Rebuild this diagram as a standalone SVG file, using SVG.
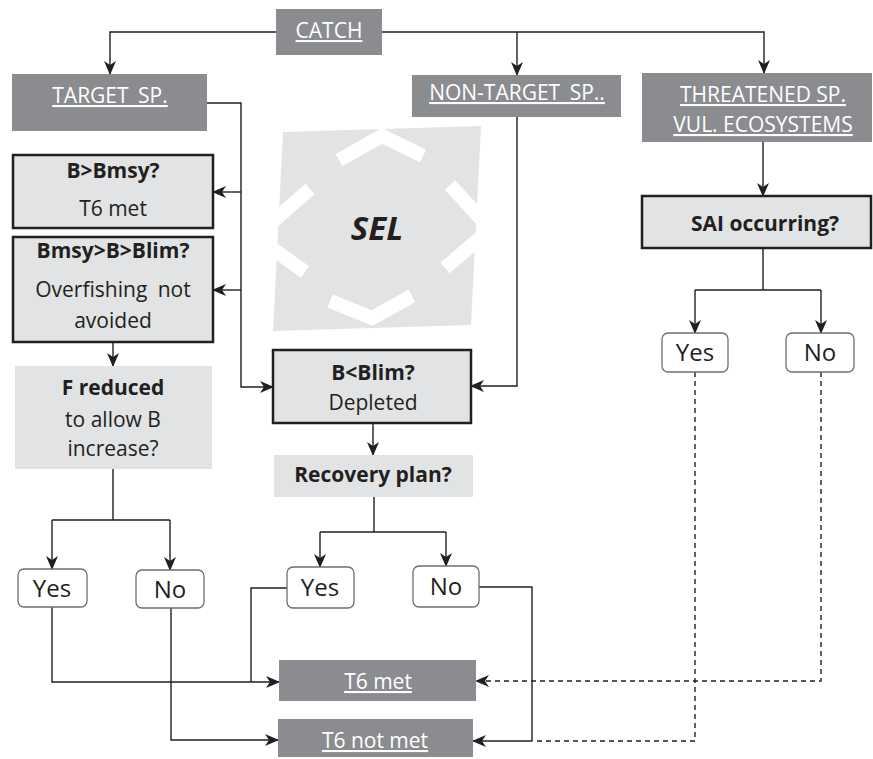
<svg xmlns="http://www.w3.org/2000/svg" width="873" height="759" viewBox="0 0 873 759">
<style>
.hdr{fill:#8b8c8f}
.box{fill:#e2e3e4;stroke:#231f20;stroke-width:2.5}
.lt{fill:#e2e3e4}
.yn{fill:#fff;stroke:#6d6e71;stroke-width:1.3}
text{font-family:"Open Sans","Noto Sans","Liberation Sans",sans-serif;text-anchor:middle;fill:#231f20;font-size:21px}
.ht{fill:#fff;text-decoration:underline}
.b{font-weight:bold}
.y{font-size:24px}
.c{fill:none;stroke:#231f20;stroke-width:1.4}
.d{fill:none;stroke:#231f20;stroke-width:1.4;stroke-dasharray:5 4}
.a{marker-end:url(#ah)}
</style>
<defs>
<marker id="ah" viewBox="0 0 14 12" refX="13" refY="6" markerWidth="14" markerHeight="12" orient="auto" markerUnits="userSpaceOnUse"><path d="M0,0 L14,6 L0,12 L4,6 Z" fill="#231f20"/></marker>
</defs>

<g id="sel">
<polygon points="283,132 481,126 471,325 273,331" fill="#e2e3e4"/>
<g fill="none" stroke="#fff" stroke-width="14" stroke-linejoin="miter">
<polyline points="339,160 382,136 423,156"/>
<polyline points="330,301 372,318 412,296"/>
<polyline points="310,189 270,224"/>
<polyline points="305,272 266,244"/>
<polyline points="450,185 482,220"/>
<polyline points="445,268 480,238"/>
</g>
<text x="377" y="240" class="b" style="font-size:33px;font-style:italic">SEL</text>
</g>

<g id="connectors">
<path class="c a" d="M276,32 H110 V74"/>
<path class="c a" d="M382,32 H764 V73"/>
<path class="c a" d="M517,32 V75"/>
<path class="c a" d="M207,103 H241 V387 H273"/>
<path class="c a" d="M241,192 H213"/>
<path class="c a" d="M241,290 H213"/>
<path class="c a" d="M113,342 V366"/>
<path class="c" d="M113,469 V520 M52,520 H170"/>
<path class="c a" d="M52,520 V569"/>
<path class="c a" d="M170,520 V570"/>
<path class="c a" d="M52,607 V682 H279"/>
<path class="c a" d="M171,608 V740 H278"/>
<path class="c a" d="M517,117 V386 H471"/>
<path class="c a" d="M373,423 V455"/>
<path class="c" d="M374,497 V532 M320,532 H446"/>
<path class="c a" d="M320,532 V567"/>
<path class="c a" d="M446,532 V566"/>
<path class="c" d="M287,588 H251 V682"/>
<path class="c a" d="M479,587 H532 V741 H473"/>
<path class="c a" d="M763,142 V196"/>
<path class="c" d="M763,248 V290 M695,290 H821"/>
<path class="c a" d="M695,290 V333"/>
<path class="c a" d="M821,290 V333"/>
<path class="d" d="M695,372 V741 H534"/>
<path class="d a" d="M821,372 V681 H476"/>
</g>

<g id="catch"><rect class="hdr" x="276" y="9" width="106" height="46"/><text class="ht" x="329" y="38">CATCH</text></g>
<g id="target"><rect class="hdr" x="12" y="74" width="195" height="57"/><text class="ht" x="110" y="103" style="word-spacing:4px">TARGET SP.</text></g>
<g id="nontarget"><rect class="hdr" x="412" y="75" width="209" height="42"/><text class="ht" x="517" y="100" style="word-spacing:4px">NON-TARGET SP..</text></g>
<g id="threatened"><rect class="hdr" x="642" y="73" width="230" height="69"/><text class="ht" x="763" y="102">THREATENED SP.</text><text class="ht" x="763" y="132">VUL. ECOSYSTEMS</text></g>

<g id="bbmsy"><rect class="box" x="13" y="155" width="200" height="73"/><text class="b" x="113" y="178">B&gt;Bmsy?</text><text x="113" y="216">T6 met</text></g>
<g id="bmsyblim"><rect class="box" x="13" y="237" width="200" height="105"/><text class="b" x="113" y="258">Bmsy&gt;B&gt;Blim?</text><text x="113" y="297" style="word-spacing:5px">Overfishing not</text><text x="113" y="328">avoided</text></g>
<g id="freduced"><rect class="lt" x="15" y="366" width="197" height="103"/><text class="b" x="113" y="395">F reduced</text><text x="113" y="427">to allow B</text><text x="113" y="456">increase?</text></g>
<g id="yes1"><rect class="yn" x="18" y="569" width="69" height="38" rx="6"/><text class="y" x="52" y="597">Yes</text></g>
<g id="no1"><rect class="yn" x="136" y="570" width="68" height="38" rx="6"/><text class="y" x="170" y="598">No</text></g>

<g id="bblim"><rect class="box" x="273" y="350" width="198" height="73"/><text class="b" x="373" y="380">B&lt;Blim?</text><text x="373" y="410">Depleted</text></g>
<g id="recovery"><rect class="lt" x="274" y="455" width="199" height="42"/><text class="b" x="373" y="482">Recovery plan?</text></g>
<g id="yes2"><rect class="yn" x="287" y="567" width="67" height="41" rx="6"/><text class="y" x="320" y="596">Yes</text></g>
<g id="no2"><rect class="yn" x="413" y="566" width="66" height="41" rx="6"/><text class="y" x="446" y="595">No</text></g>

<g id="sai"><rect class="box" x="642" y="196" width="229" height="52"/><text class="b" x="765" y="231">SAI occurring?</text></g>
<g id="yes3"><rect class="yn" x="662" y="333" width="66" height="39" rx="6"/><text class="y" x="695" y="361">Yes</text></g>
<g id="no3"><rect class="yn" x="786" y="333" width="68" height="39" rx="6"/><text class="y" x="820" y="361">No</text></g>

<g id="t6met"><rect class="hdr" x="279" y="660" width="197" height="41"/><text class="ht" x="378" y="689">T6 met</text></g>
<g id="t6notmet"><rect class="hdr" x="278" y="719" width="195" height="38"/><text class="ht" x="375" y="748">T6 not met</text></g>
</svg>
